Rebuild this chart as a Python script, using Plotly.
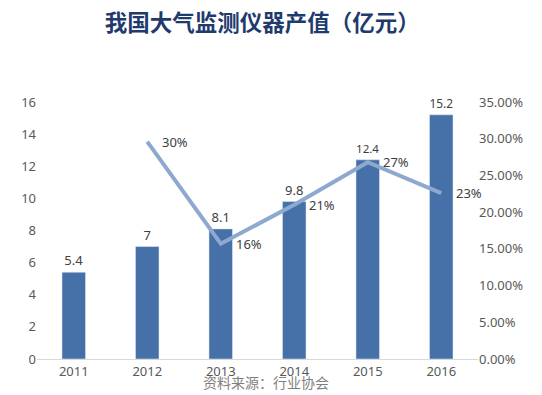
import plotly.graph_objects as go

years = ["2011", "2012", "2013", "2014", "2015", "2016"]
output_value = [5.4, 7, 8.1, 9.8, 12.4, 15.2]
growth_years = ["2012", "2013", "2014", "2015", "2016"]
growth_rate = [0.296, 0.157, 0.210, 0.268, 0.226]
left_ticks = [0, 2, 4, 6, 8, 10, 12, 14, 16]
right_ticks = [0, 0.05, 0.10, 0.15, 0.20, 0.25, 0.30, 0.35]

tick_font = dict(family="Noto Sans, Open Sans, sans-serif", size=13, color="#595959")
label_font = dict(family="Noto Sans, Open Sans, sans-serif", size=13, color="#404040")

fig = go.Figure()
fig.add_trace(go.Bar(
    x=years, y=output_value, width=0.32,
    marker=dict(color="#4670A8"),
    text=[f"{v:g}" for v in output_value], textposition="outside",
    textfont=label_font, cliponaxis=False, showlegend=False,
))
fig.add_trace(go.Scatter(
    x=growth_years, y=growth_rate, yaxis="y2", mode="lines",
    line=dict(color="#8EA9CF", width=4),
    cliponaxis=False, showlegend=False,
))

annotations = [dict(x=years.index(yr), y=v, xref="x", yref="y2", text=f"{v*100:.0f}%",
                    showarrow=False, xanchor="left", yanchor="middle", xshift=13,
                    font=label_font)
               for yr, v in zip(growth_years, growth_rate)]
annotations.append(dict(text="资料来源：行业协会", x=0.52, xref="paper", y=-0.09, yref="paper",
                        yanchor="middle", showarrow=False,
                        font=dict(family="Noto Sans CJK SC", size=14, color="#7F7F7F")))

fig.update_layout(
    width=534, height=387,
    margin=dict(l=29, r=64, t=94, b=36),
    paper_bgcolor="white", plot_bgcolor="white",
    title=dict(text="<b>我国大气监测仪器产值（亿元）</b>", x=0.476, xanchor="center",
               y=0.962, yanchor="middle",
               font=dict(family="Noto Sans CJK SC", size=22.5, color="#1F3B6E")),
    xaxis=dict(type="category", range=[-0.5, len(years) - 0.5], showgrid=False,
               showline=True, linecolor="#D9D9D9", linewidth=1, ticks="",
               tickfont=tick_font),
    yaxis=dict(range=[0, 16], tickvals=left_ticks, showgrid=False, zeroline=False,
               showline=False, ticks="", tickfont=tick_font),
    yaxis2=dict(range=[0, 0.35], tickvals=right_ticks, tickformat=".2%", overlaying="y",
                side="right", showgrid=False, zeroline=False, showline=False,
                ticks="", tickfont=tick_font),
    bargap=0.5,
    annotations=annotations,
)

fig.write_html("out.html")
